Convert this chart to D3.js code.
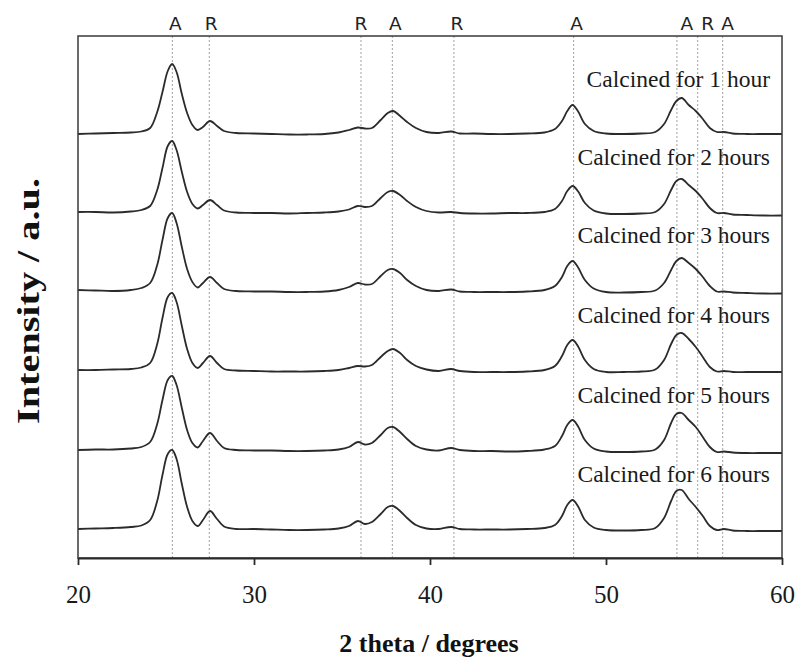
<!DOCTYPE html>
<html>
<head>
<meta charset="utf-8">
<script src="https://cdn.jsdelivr.net/npm/d3@7"></script>
<style>
  html, body { margin: 0; padding: 0; background: #fff; }
  svg { display: block; }
</style>
</head>
<body>
<svg id="chart" width="800" height="663"></svg>
<script>
// Diffraction angle grid (2θ, degrees) shared by every pattern
const twoTheta = [20, 21, 22, 23, 23.6, 24.1, 24.5, 24.8, 25.1, 25.35, 25.6, 25.9, 26.2, 26.5, 26.8, 27.1, 27.5, 27.9, 28.3, 29, 30, 31, 32, 33, 34, 34.8, 35.4, 35.9, 36.3, 36.7, 37.2, 37.6, 37.9, 38.3, 38.7, 39.2, 39.8, 40.5, 41.2, 41.7, 42.5, 43.5, 44.5, 45.5, 46.5, 47.1, 47.5, 47.8, 48.1, 48.4, 48.8, 49.3, 50, 51, 52, 52.8, 53.3, 53.7, 54, 54.3, 54.7, 55.1, 55.5, 55.9, 56.3, 56.7, 57.2, 58, 59, 60];

// Intensity above each pattern's own baseline (a.u.)
const calcined1h = [0, 0.5, 1, 1.5, 2.5, 6, 22, 42, 63, 70, 62, 40, 21, 9, 4, 7, 13, 8, 3, 1, 0.5, 0, -0.5, -0.5, 0, 1.5, 4, 6.5, 5.5, 6, 14, 21, 23, 18, 12, 6, 2, 1, 2.5, 0.5, 0.5, 0, 0, 0.5, 1.5, 5, 13, 23, 29, 23, 10, 3, 0.5, 0, 0.5, 2, 10, 24, 33, 36, 29, 23, 15, 6, 2, 2, 0.5, 0, 0, 0];
const calcined2h = [0, 0, -0.5, 0.5, 2, 6, 22, 44, 66, 71, 62, 40, 20, 8, 3.5, 7, 12, 7, 1.5, -0.5, -1, -1, -1.5, -1, -0.5, 0.5, 2.5, 6, 5, 6, 14, 20, 21, 17, 11, 5, 1, -0.5, 0, -1, -1.5, -1.5, -1, -1, 0, 3, 11, 21, 26, 21, 9, 1.5, -1.5, -2, -1.5, 0, 8, 22, 31, 33, 27, 21, 13, 4, -1, -1, -2.5, -3, -3.5, -3.5];
const calcined3h = [0, -0.5, -1, 0, 2, 7, 25, 50, 72, 77, 67, 43, 21, 8, 2.5, 7, 13, 7, 1, -1, -1.5, -1.5, -2, -2, -1.5, 0, 3, 7, 5.5, 6, 14, 20, 21, 17, 10, 4, 0, -1, 0.5, -1.5, -2, -2, -2, -1.5, 0, 4, 13, 24, 29, 23, 10, 1.5, -2, -2.5, -2, -0.5, 7, 20, 29, 32, 27, 21, 13, 4, -1.5, -1.5, -2.5, -3, -3.5, -3.5];
const calcined4h = [0, 0, 0.5, 1, 2.5, 7, 26, 52, 73, 77, 68, 44, 21, 7, 2, 7, 14, 7, 1, -0.5, -1, -1.5, -1.5, -1.5, -1, 0, 2, 4, 3.5, 5, 13, 19, 21, 17, 10, 4, 0.5, -1, 1, -1, -2, -2, -2, -1.5, 0, 4, 14, 25, 30, 24, 10, 1, -2, -2, -1.5, 0.5, 10, 26, 35, 37, 31, 23, 13, 3, -1.5, -1, -2, -2, -2, -2];
const calcined5h = [0, 0.5, 0.5, 1.5, 3, 8, 26, 50, 70, 74, 65, 42, 20, 7, 2.5, 9, 17, 9, 2, 0, -0.5, -0.5, -1, -1, -0.5, 0.5, 3, 8, 5.5, 7, 15, 22, 23, 18, 11, 4, 0.5, -0.5, 2, 0, -1, -1, -1.5, -1, 0.5, 4, 14, 25, 30, 24, 10, 1.5, -1.5, -2, -1.5, 0.5, 10, 27, 36, 37, 30, 23, 13, 3, -2, -1.5, -2.5, -3, -3, -3];
const calcined6h = [0, 0.5, 1, 2, 3.5, 9, 28, 54, 75, 79, 70, 45, 22, 8, 3, 9, 18, 10, 2.5, 0, 0, -0.5, -1, -1, -0.5, 0.5, 3, 8, 5, 7, 15, 22, 23, 18, 11, 4, 0.5, 0, 2, 0, -0.5, -0.5, -0.5, 0, 1, 4, 13, 24, 29, 23, 9, 1.5, -1, -1.5, -1, 1, 11, 28, 38, 39, 30, 22, 13, 3, -1, 0, -1.5, -2, -2, -2];

const seriesNames = ["Calcined for 1 hour", "Calcined for 2 hours", "Calcined for 3 hours",
                     "Calcined for 4 hours", "Calcined for 5 hours", "Calcined for 6 hours"];
const seriesValues = [calcined1h, calcined2h, calcined3h, calcined4h, calcined5h, calcined6h];
// Vertical stacking offset of each pattern (a.u.)
const stackOffsets = [424, 346, 268, 188, 108, 29];

// Reference reflections: anatase (A) and rutile (R)
const phaseLabels = ["A", "R", "R", "A", "R", "A", "A", "R", "A"];
const phaseAngles = [25.36, 27.46, 36.08, 37.86, 41.36, 48.16, 54.03, 55.21, 56.63];

const xTicks = [20, 30, 40, 50, 60];

const svg = d3.select("#chart");
const plotLeft = 78, plotRight = 782, plotTop = 36, plotBottom = 558;

const x = d3.scaleLinear().domain([20, 60]).range([plotLeft, plotRight]);
const y = d3.scaleLinear().domain([0, 522]).range([plotBottom, plotTop]);

const ink = "#2b2b2b";

// Reference reflection guide lines
svg.append("g").selectAll("line")
  .data(phaseAngles)
  .join("line")
  .attr("x1", d => x(d)).attr("x2", d => x(d))
  .attr("y1", plotTop).attr("y2", plotBottom)
  .attr("stroke", "#a0a0a0")
  .attr("stroke-width", 1)
  .attr("stroke-dasharray", "2,2");

// Phase letters above the frame (crowded group nudged apart)
const labelNudge = [3, 2, 0, 3, 3, 3, 10, 10, 5];
svg.append("g").selectAll("text")
  .data(phaseLabels)
  .join("text")
  .attr("x", (d, i) => x(phaseAngles[i]) + labelNudge[i])
  .attr("y", 30)
  .attr("text-anchor", "middle")
  .attr("font-family", "DejaVu Sans, sans-serif")
  .attr("font-size", 18.5)
  .attr("fill", "#222")
  .text(d => d);

// Patterns
const line = d3.line()
  .x(d => x(d[0]))
  .y(d => y(d[1]))
  .curve(d3.curveCatmullRom.alpha(0.5));

seriesValues.forEach((vals, i) => {
  const pts = twoTheta.map((t, k) => [t, vals[k] + stackOffsets[i]]);
  svg.append("path")
    .datum(pts)
    .attr("d", line)
    .attr("fill", "none")
    .attr("stroke", ink)
    .attr("stroke-width", 1.8)
    .attr("stroke-linejoin", "round");
  svg.append("text")
    .attr("x", 770)
    .attr("y", y(stackOffsets[i] + 47))
    .attr("text-anchor", "end")
    .attr("font-family", "Liberation Serif, Times New Roman, serif")
    .attr("font-size", 23.5)
    .attr("fill", "#1a1a1a")
    .text(seriesNames[i]);
});

// Frame
svg.append("rect")
  .attr("x", plotLeft).attr("y", plotTop)
  .attr("width", plotRight - plotLeft).attr("height", plotBottom - plotTop)
  .attr("fill", "none")
  .attr("stroke", "#3a3a3a")
  .attr("stroke-width", 1.5);

// Bottom axis
const xAxis = d3.axisBottom(x)
  .tickValues(xTicks)
  .tickSize(7)
  .tickSizeOuter(0)
  .tickPadding(20)
  .tickFormat(d3.format("d"));
const gx = svg.append("g")
  .attr("transform", `translate(0,${plotBottom})`)
  .call(xAxis);
gx.select(".domain").attr("stroke", ink).attr("stroke-width", 1.8);
gx.selectAll(".tick line").attr("stroke", ink).attr("stroke-width", 1.8);
gx.selectAll(".tick text")
  .attr("font-family", "Liberation Serif, Times New Roman, serif")
  .attr("font-size", 25)
  .attr("fill", "#1a1a1a");

// Axis titles
svg.append("text")
  .attr("x", 429).attr("y", 652)
  .attr("text-anchor", "middle")
  .attr("font-family", "Liberation Serif, Times New Roman, serif")
  .attr("font-weight", "bold")
  .attr("font-size", 26)
  .attr("fill", "#111")
  .text("2 theta / degrees");

svg.append("text")
  .attr("transform", "translate(39,301) rotate(-90)")
  .attr("text-anchor", "middle")
  .attr("font-family", "Liberation Serif, Times New Roman, serif")
  .attr("font-weight", "bold")
  .attr("font-size", 31)
  .attr("textLength", 246)
  .attr("lengthAdjust", "spacingAndGlyphs")
  .attr("fill", "#111")
  .text("Intensity / a.u.");
</script>
</body>
</html>
